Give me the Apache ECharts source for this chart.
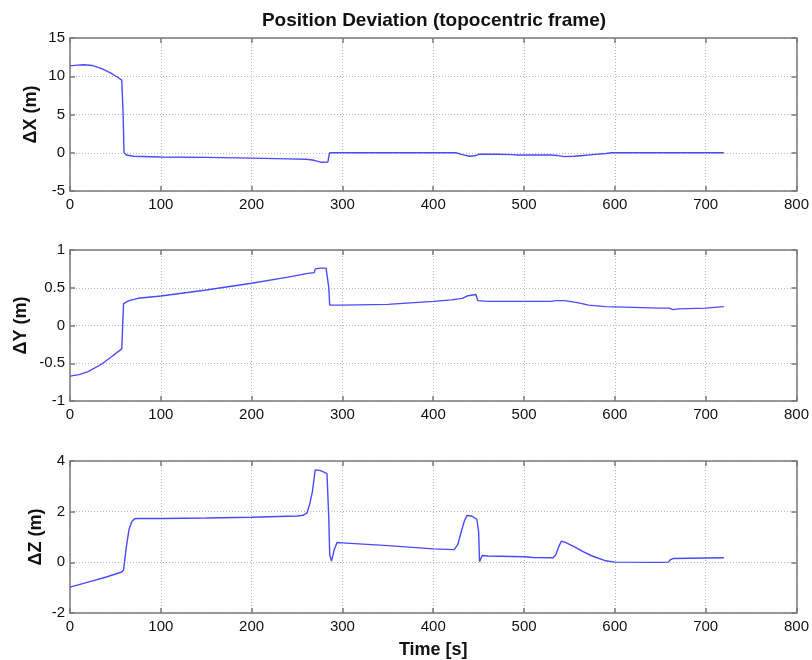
<!DOCTYPE html>
<html>
<head>
<meta charset="utf-8">
<script src="https://cdn.jsdelivr.net/npm/echarts@6/dist/echarts.min.js"></script>
<style>
html,body{margin:0;padding:0;background:#fff;}
#chart{width:812px;height:660px;}
</style>
</head>
<body>
<div id="chart"></div>
<script>
// time samples (s) and deviations (m)
const tX = [0, 8, 15, 25, 35, 45, 52, 57, 58.5, 59.5, 62, 70, 100, 150, 200, 240, 260, 267, 272, 277, 284, 285, 286, 350, 425, 432, 440, 446, 450, 470, 488, 492, 530, 536, 544, 555, 565, 575, 590, 597, 650, 720];
const dX = [11.35, 11.45, 11.5, 11.4, 11.0, 10.4, 9.9, 9.5, 5, 0, -0.3, -0.45, -0.55, -0.6, -0.7, -0.8, -0.85, -0.95, -1.1, -1.25, -1.2, -0.5, 0, 0, 0, -0.25, -0.45, -0.4, -0.2, -0.2, -0.25, -0.3, -0.3, -0.35, -0.5, -0.45, -0.35, -0.25, -0.1, 0, 0, 0];

const tY = [0, 10, 20, 35, 45, 57, 58, 59, 60, 65, 75, 100, 150, 200, 240, 262, 269, 270, 276, 282, 284, 285, 286, 300, 350, 400, 420, 432, 437, 447, 448, 449, 460, 500, 530, 535, 545, 560, 571, 590, 620, 650, 660, 664, 670, 700, 710, 720];
const dY = [-0.67, -0.65, -0.61, -0.51, -0.42, -0.31, 0, 0.29, 0.31, 0.33, 0.36, 0.39, 0.47, 0.56, 0.64, 0.69, 0.7, 0.75, 0.76, 0.76, 0.75, 0.5, 0.27, 0.27, 0.28, 0.32, 0.34, 0.36, 0.39, 0.41, 0.41, 0.33, 0.32, 0.32, 0.32, 0.33, 0.33, 0.3, 0.27, 0.25, 0.24, 0.23, 0.23, 0.21, 0.22, 0.23, 0.24, 0.25];

const tZ = [0, 20, 40, 57, 59, 62, 65, 68, 71, 75, 100, 150, 200, 250, 257, 261, 264, 267, 270, 276, 283, 284, 285, 286, 288, 291, 294, 300, 350, 400, 423, 427, 430, 434, 437, 442, 448, 450, 451, 454, 460, 500, 510, 532, 535, 538, 541, 545, 555, 565, 575, 590, 600, 650, 659, 661, 664, 720];
const dZ = [-0.98, -0.78, -0.58, -0.38, -0.3, 0.6, 1.3, 1.6, 1.72, 1.73, 1.73, 1.75, 1.78, 1.83, 1.86, 1.95, 2.3, 2.8, 3.65, 3.62, 3.5, 3.45, 1.7, 0.3, 0.05, 0.5, 0.78, 0.77, 0.66, 0.53, 0.5, 0.7, 1.1, 1.6, 1.85, 1.83, 1.7, 1.2, 0.02, 0.27, 0.25, 0.22, 0.19, 0.18, 0.3, 0.6, 0.83, 0.8, 0.62, 0.42, 0.25, 0.06, 0.01, 0.0, 0.01, 0.1, 0.15, 0.18];

const yNames = ['\u0394X (m)', '\u0394Y (m)', '\u0394Z (m)'];
const yMins = [-5, -1, -2];
const yMaxs = [15, 1, 4];
const yStep = [5, 0.5, 2];

const chart = echarts.init(document.getElementById('chart'));

const font = 'Liberation Sans, Arial, sans-serif';
const frame = '#7a7a7a';
const grids = [
  {left: 70, right: 14, top: 38, height: 153},
  {left: 70, right: 14, top: 250, height: 151},
  {left: 70, right: 14, top: 461, height: 152}
];
const nameGaps = [30, 40, 25];

const xAxis = [];
const yAxis = [];
grids.forEach((g, i) => {
  // bottom axis with labels
  xAxis.push({
    type: 'value', gridIndex: i, min: 0, max: 800, interval: 100,
    position: 'bottom',
    name: i === 2 ? 'Time [s]' : '',
    nameLocation: 'middle', nameGap: 28,
    nameTextStyle: {fontFamily: font, fontWeight: 'bold', fontSize: 18, color: '#111'},
    axisLine: {onZero: false, lineStyle: {color: frame, width: 1.5}},
    axisTick: {inside: true, length: 5, lineStyle: {color: frame, width: 1.5}},
    axisLabel: {fontFamily: font, fontSize: 15, color: '#111', margin: 6},
    splitLine: {show: true, lineStyle: {color: '#b8b8b8', type: [1, 2], width: 1}}
  });
  // top axis: box + ticks only
  xAxis.push({
    type: 'value', gridIndex: i, min: 0, max: 800, interval: 100,
    position: 'top',
    axisLine: {onZero: false, lineStyle: {color: frame, width: 1.5}},
    axisTick: {inside: true, length: 5, lineStyle: {color: frame, width: 1.5}},
    axisLabel: {show: false},
    splitLine: {show: false}
  });
  yAxis.push({
    type: 'value', gridIndex: i, min: yMins[i], max: yMaxs[i], interval: yStep[i],
    position: 'left',
    name: yNames[i], nameLocation: 'middle', nameGap: nameGaps[i], nameRotate: 90,
    nameMoveOverlap: false,
    nameTextStyle: {fontFamily: font, fontWeight: 'bold', fontSize: 18, color: '#111'},
    axisLine: {show: true, onZero: false, lineStyle: {color: frame, width: 1.5}},
    axisTick: {show: true, inside: true, length: 5, lineStyle: {color: frame, width: 1.5}},
    axisLabel: {fontFamily: font, fontSize: 15, color: '#111', margin: 5},
    splitLine: {show: true, lineStyle: {color: '#b8b8b8', type: [1, 2], width: 1}}
  });
  yAxis.push({
    type: 'value', gridIndex: i, min: yMins[i], max: yMaxs[i], interval: yStep[i],
    position: 'right',
    axisLine: {show: true, onZero: false, lineStyle: {color: frame, width: 1.5}},
    axisTick: {show: true, inside: true, length: 5, lineStyle: {color: frame, width: 1.5}},
    axisLabel: {show: false},
    splitLine: {show: false}
  });
});

function pairs(t, d) {
  return t.map((v, k) => [v, d[k]]);
}

const lineStyle = {color: '#4a4aff', width: 1.4};
const option = {
  animation: false,
  backgroundColor: '#fff',
  title: {
    text: 'Position Deviation (topocentric frame)',
    left: 429, top: 6, textAlign: 'center',
    textStyle: {fontFamily: font, fontWeight: 'bold', fontSize: 19, color: '#111'}
  },
  grid: grids,
  xAxis: xAxis,
  yAxis: yAxis,
  series: [
    {type: 'line', xAxisIndex: 0, yAxisIndex: 0, data: pairs(tX, dX), showSymbol: false, lineStyle: lineStyle, color: '#4a4aff'},
    {type: 'line', xAxisIndex: 2, yAxisIndex: 2, data: pairs(tY, dY), showSymbol: false, lineStyle: lineStyle, color: '#4a4aff'},
    {type: 'line', xAxisIndex: 4, yAxisIndex: 4, data: pairs(tZ, dZ), showSymbol: false, lineStyle: lineStyle, color: '#4a4aff'}
  ]
};
chart.setOption(option);
</script>
</body>
</html>
